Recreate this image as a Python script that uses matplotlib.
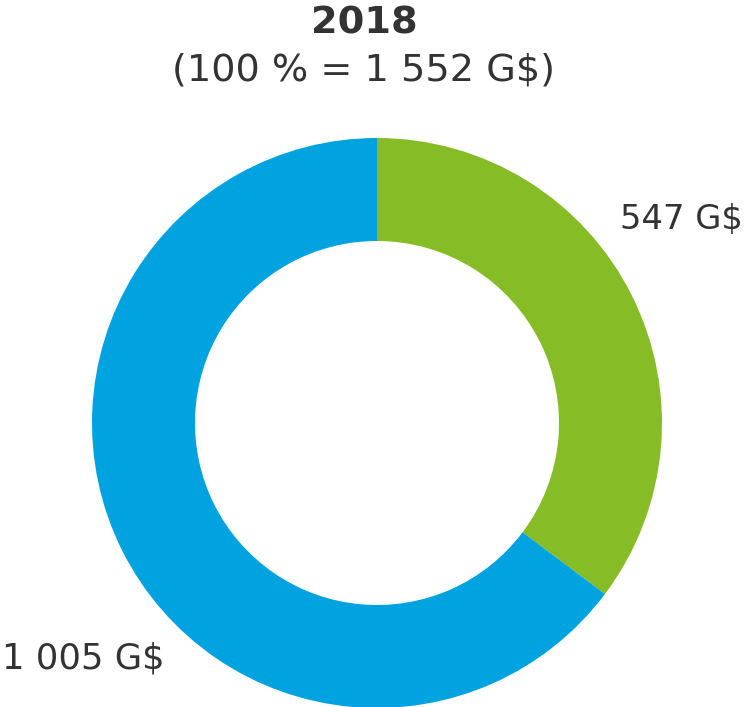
import matplotlib.pyplot as plt

# Répartition 2018 (G$)
labels = ['547 G$', '1 005 G$']
values = [547, 1005]
colors = ['#86bc25', '#00a3e0']
total_label = '(100 % = 1 552 G$)'
year = '2018'

text_color = '#333333'

fig = plt.figure(figsize=(7.44, 7.07), dpi=100)
ax = fig.add_axes([0, 0, 1, 1])

# anneau : rayon extérieur 285 px, intérieur ~182 px
ax.pie(values, colors=colors, startangle=90, counterclock=False,
       center=(377, 284), radius=285, frame=True,
       wedgeprops=dict(width=103, linewidth=0))
ax.set_xlim(0, 744)
ax.set_ylim(0, 707)
ax.set_aspect('equal')
ax.axis('off')

ax.text(364, 684, year, ha='center', va='center', fontsize=27.5,
        fontweight='bold', color=text_color)
ax.text(364, 636, total_label, ha='center', va='center', fontsize=27.5,
        color=text_color)

ax.text(620, 487, labels[0], ha='left', va='center', fontsize=24.3, color=text_color)
ax.text(2, 49, labels[1], ha='left', va='center', fontsize=25.5, color=text_color)

fig.savefig('out.png', dpi=100)
